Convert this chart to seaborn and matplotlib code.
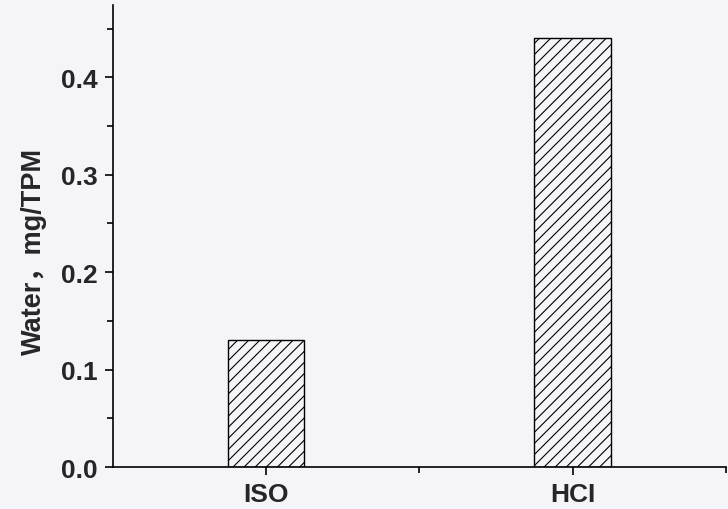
import matplotlib
matplotlib.use("Agg")
import matplotlib.pyplot as plt
import seaborn as sns
import pandas as pd
from matplotlib.ticker import MultipleLocator, FixedLocator

# Water yield per sample
categories = ["ISO", "HCl"]
tick_labels = ["ISO", "HCI"]
water = [0.13, 0.44]

df = pd.DataFrame({"sample": categories, "water": water})

sns.set_style("ticks")
plt.rcParams["font.family"] = ["Liberation Sans", "Noto Sans CJK SC", "DejaVu Sans"]
plt.rcParams["hatch.linewidth"] = 0.8

bg = "#f5f5f9"
fig = plt.figure(figsize=(7.28, 5.10), dpi=100, facecolor=bg)
ax = fig.add_axes([0.155, 0.082, 0.842, 0.906])
ax.set_facecolor(bg)

sns.barplot(data=df, x="sample", y="water", order=categories, color="white",
            edgecolor="black", linewidth=1.0, width=0.25, ax=ax,
            saturation=1, errorbar=None)
for p in ax.patches:
    p.set_hatch("///")
    p.set_facecolor("none")

ax.set_xlim(-0.5, 1.5)
ax.set_ylim(0, 0.474)
ax.set_xticks(range(len(categories)))
ax.set_xticklabels(tick_labels)
ax.xaxis.set_minor_locator(FixedLocator([0.5, 1.5]))
ax.yaxis.set_major_locator(MultipleLocator(0.1))
ax.yaxis.set_minor_locator(MultipleLocator(0.05))
ax.yaxis.set_major_formatter(matplotlib.ticker.FormatStrFormatter("%.1f"))

for lbl in ax.get_xticklabels() + ax.get_yticklabels():
    lbl.set_fontweight("bold")
    lbl.set_fontsize(19)

ax.tick_params(axis="both", which="major", direction="out", length=6, width=1.2,
               color="black", pad=5)
ax.tick_params(axis="both", which="minor", direction="out", length=4, width=1.2,
               color="black")

ax.set_xlabel("")
ax.set_ylabel("Water，mg/TPM", fontsize=19.5, fontweight="bold", labelpad=10)
ax.yaxis.label.set_y(0.468)

for side in ["top", "right"]:
    ax.spines[side].set_visible(False)
for side in ["left", "bottom"]:
    ax.spines[side].set_linewidth(1.2)
    ax.spines[side].set_color("black")

fig.savefig("out.png", dpi=100, facecolor=bg)
